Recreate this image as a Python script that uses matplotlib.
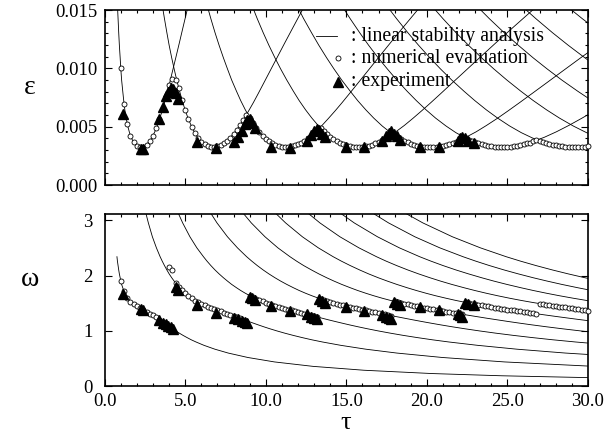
import numpy as np
import matplotlib
matplotlib.use('Agg')
import matplotlib.pyplot as plt
from matplotlib.ticker import MultipleLocator, FormatStrFormatter

# ---------------- data ----------------
# frequency grid shared by the linear-stability curves (descending)
OMEGA = [3.20, 2.95, 2.70, 2.50, 2.34, 2.26, 2.18, 2.10, 2.03, 1.96, 1.90, 1.84, 1.78, 1.73, 1.68, 1.635,
         1.59, 1.55, 1.515, 1.48, 1.45, 1.425, 1.40, 1.375, 1.35, 1.32, 1.29, 1.26, 1.23, 1.20, 1.17, 1.14,
         1.11, 1.075, 1.04, 1.00, 0.96, 0.92, 0.88, 0.84, 0.80, 0.74, 0.67, 0.60, 0.52, 0.44, 0.36, 0.29,
         0.23, 0.19, 0.155]
# threshold epsilon along that grid (linear stability analysis)
EPS_GRID = [0.028219, 0.024973, 0.021631, 0.018872, 0.016597, 0.015434, 0.014252, 0.013050, 0.011981,
            0.010896, 0.009953, 0.009001, 0.008041, 0.007239, 0.006441, 0.005735, 0.005054, 0.004486,
            0.004038, 0.003662, 0.003420, 0.003294, 0.003250, 0.003296, 0.003432, 0.003708, 0.004091,
            0.004562, 0.005106, 0.005710, 0.006365, 0.007067, 0.007812, 0.008733, 0.009710, 0.010896,
            0.012160, 0.013510, 0.014953, 0.016501, 0.018168, 0.020931, 0.024648, 0.029071, 0.035350,
            0.043612, 0.055177, 0.070152, 0.089886, 0.109744, 0.135349]
# delay time of each mode n along the grid; mode 1 starts at OMEGA[4]
TAU_N1 = [0.76, 0.79, 0.83, 0.87, 0.91, 0.96, 1.00, 1.05, 1.12, 1.18, 1.25, 1.33, 1.43, 1.54, 1.65, 1.80,
          1.95, 2.09, 2.24, 2.41, 2.57, 2.76, 2.94, 3.11, 3.27, 3.42, 3.57, 3.71, 3.86, 4.03, 4.20, 4.41,
          4.63, 4.86, 5.11, 5.37, 5.67, 6.16, 6.84, 7.67, 8.89, 10.54, 12.93, 16.09, 20.33, 24.65, 30.25]
TAU_N2 = [2.49, 2.71, 2.96, 3.21, 3.44, 3.57, 3.71, 3.86, 4.00, 4.16, 4.31, 4.47, 4.65, 4.81, 4.99, 5.17,
          5.38, 5.59, 5.80, 6.04, 6.28, 6.50, 6.73, 6.98, 7.22, 7.52, 7.81, 8.10, 8.38, 8.66, 8.94, 9.23,
          9.52, 9.87, 10.24, 10.69, 11.17, 11.69, 12.25, 12.85, 13.52, 14.65, 16.21, 18.14, 20.97, 24.82,
          30.38]
TAU_N3 = [4.45, 4.84, 5.29, 5.72, 6.13, 6.35, 6.59, 6.85, 7.10, 7.37, 7.62, 7.88, 8.18, 8.44, 8.73, 9.02,
          9.33, 9.64, 9.95, 10.29, 10.61, 10.91, 11.22, 11.55, 11.88, 12.28, 12.68, 13.08, 13.49, 13.89,
          14.31, 14.74, 15.18, 15.72, 16.29, 16.98, 17.72, 18.52, 19.39, 20.33, 21.37, 23.14, 25.59, 28.61,
          33.00]
TAU_N4 = [6.42, 6.97, 7.62, 8.24, 8.81, 9.13, 9.47, 9.84, 10.19, 10.57, 10.92, 11.30, 11.71, 12.07, 12.47,
          12.86, 13.28, 13.70, 14.10, 14.54, 14.95, 15.32, 15.71, 16.11, 16.53, 17.04, 17.55, 18.07, 18.60,
          19.13, 19.68, 20.25, 20.84, 21.56, 22.33, 23.26, 24.26, 25.35, 26.53, 27.81, 29.23, 31.63]
TAU_N5 = [8.38, 9.10, 9.95, 10.75, 11.50, 11.91, 12.35, 12.84, 13.29, 13.78, 14.23, 14.71, 15.24, 15.70,
          16.21, 16.70, 17.23, 17.75, 18.24, 18.78, 19.28, 19.73, 20.20, 20.68, 21.19, 21.80, 22.42, 23.06,
          23.70, 24.37, 25.05, 25.76, 26.50, 27.41, 28.37, 29.54, 30.81]
TAU_N6 = [10.34, 11.23, 12.27, 13.26, 14.18, 14.69, 15.24, 15.83, 16.38, 16.98, 17.54, 18.13, 18.77, 19.34,
          19.95, 20.54, 21.19, 21.80, 22.39, 23.03, 23.61, 24.14, 24.68, 25.25, 25.84, 26.56, 27.29, 28.04,
          28.81, 29.60, 30.42]
TAU_N7 = [12.31, 13.36, 14.60, 15.78, 16.87, 17.47, 18.12, 18.82, 19.48, 20.19, 20.84, 21.54, 22.30, 22.97,
          23.69, 24.39, 25.14, 25.86, 26.54, 27.27, 27.95, 28.55, 29.17, 29.82, 30.49]
TAU_N8 = [14.27, 15.49, 16.93, 18.29, 19.55, 20.25, 21.00, 21.81, 22.58, 23.40, 24.15, 24.96, 25.83, 26.60,
          27.43, 28.23, 29.09, 29.91, 30.69]
TAU_N9 = [16.23, 17.62, 19.25, 20.80, 22.24, 23.03, 23.88, 24.80, 25.67, 26.60, 27.46, 28.37, 29.36, 30.23]
TAU_N10 = [18.20, 19.75, 21.58, 23.32, 24.92, 25.81, 26.77, 27.80, 28.77, 29.81, 30.76]
TAU_N11 = [20.16, 21.88, 23.91, 25.83, 27.61, 28.59, 29.65, 30.79]

# numerical evaluation (open circles)
NUM_TAU = [1.0, 1.2, 1.4, 1.6, 1.8, 2.0, 2.2, 2.4, 2.6, 2.8, 3.0, 3.2, 3.4, 3.6, 3.8, 4.0, 4.2, 4.4, 4.6,
           4.8, 5.0, 5.2, 5.4, 5.6, 5.8, 6.0, 6.2, 6.4, 6.6, 6.8, 7.0, 7.2, 7.4, 7.6, 7.8, 8.0, 8.2, 8.4,
           8.6, 8.8, 9.0, 9.2, 9.4, 9.6, 9.8, 10.0, 10.2, 10.4, 10.6, 10.8, 11.0, 11.2, 11.4, 11.6, 11.8,
           12.0, 12.2, 12.4, 12.6, 12.8, 13.0, 13.2, 13.4, 13.6, 13.8, 14.0, 14.2, 14.4, 14.6, 14.8, 15.0,
           15.2, 15.4, 15.6, 15.8, 16.0, 16.2, 16.4, 16.6, 16.8, 17.0, 17.2, 17.4, 17.6, 17.8, 18.0, 18.2,
           18.4, 18.6, 18.8, 19.0, 19.2, 19.4, 19.6, 19.8, 20.0, 20.2, 20.4, 20.6, 20.8, 21.0, 21.2, 21.4,
           21.6, 21.8, 22.0, 22.2, 22.4, 22.6, 22.8, 23.0, 23.2, 23.4, 23.6, 23.8, 24.0, 24.2, 24.4, 24.6,
           24.8, 25.0, 25.2, 25.4, 25.6, 25.8, 26.0, 26.2, 26.4, 26.6, 26.8, 27.0, 27.2, 27.4, 27.6, 27.8,
           28.0, 28.2, 28.4, 28.6, 28.8, 29.0, 29.2, 29.4, 29.6, 29.8, 30.0]
NUM_EPS = [0.00999, 0.00697, 0.00523, 0.00423, 0.00366, 0.00336, 0.00325, 0.00329, 0.00347, 0.00378,
           0.00424, 0.00486, 0.00562, 0.00651, 0.00750, 0.00857, 0.00910, 0.00900, 0.00828, 0.00728,
           0.00640, 0.00564, 0.00499, 0.00446, 0.00404, 0.00372, 0.00349, 0.00334, 0.00326, 0.00325,
           0.00331, 0.00342, 0.00358, 0.00380, 0.00407, 0.00439, 0.00475, 0.00515, 0.00558, 0.00603,
           0.00577, 0.00532, 0.00492, 0.00456, 0.00424, 0.00397, 0.00375, 0.00357, 0.00343, 0.00333,
           0.00327, 0.00325, 0.00326, 0.00331, 0.00339, 0.00350, 0.00364, 0.00381, 0.00400, 0.00422,
           0.00446, 0.00471, 0.00488, 0.00461, 0.00436, 0.00414, 0.00394, 0.00377, 0.00362, 0.00349,
           0.00340, 0.00333, 0.00328, 0.00325, 0.00325, 0.00327, 0.00332, 0.00338, 0.00346, 0.00356,
           0.00368, 0.00382, 0.00397, 0.00413, 0.00431, 0.00425, 0.00407, 0.00392, 0.00378, 0.00365,
           0.00354, 0.00345, 0.00338, 0.00332, 0.00328, 0.00326, 0.00325, 0.00326, 0.00328, 0.00332,
           0.00337, 0.00344, 0.00352, 0.00361, 0.00371, 0.00382, 0.00394, 0.00403, 0.00390, 0.00378,
           0.00368, 0.00358, 0.00350, 0.00343, 0.00337, 0.00332, 0.00328, 0.00326, 0.00325, 0.00325,
           0.00326, 0.00329, 0.00332, 0.00337, 0.00342, 0.00348, 0.00356, 0.00364, 0.00373, 0.00382,
           0.00379, 0.00369, 0.00361, 0.00353, 0.00346, 0.00341, 0.00336, 0.00332, 0.00329, 0.00327,
           0.00325, 0.00325, 0.00326, 0.00327, 0.00329, 0.00332]
NUM_OMEGA = [1.902, 1.713, 1.602, 1.530, 1.480, 1.441, 1.407, 1.376, 1.345, 1.314, 1.280, 1.243, 1.204,
             1.164, 1.122, 2.160, 2.100, 1.865, 1.795, 1.733, 1.677, 1.629, 1.586, 1.548, 1.515, 1.486,
             1.460, 1.436, 1.414, 1.393, 1.373, 1.352, 1.332, 1.312, 1.291, 1.270, 1.249, 1.228, 1.206,
             1.185, 1.637, 1.608, 1.581, 1.555, 1.532, 1.509, 1.489, 1.470, 1.451, 1.434, 1.418, 1.402,
             1.386, 1.371, 1.356, 1.341, 1.326, 1.311, 1.296, 1.281, 1.266, 1.251, 1.578, 1.559, 1.541,
             1.523, 1.506, 1.490, 1.475, 1.460, 1.446, 1.433, 1.420, 1.407, 1.394, 1.382, 1.370, 1.358,
             1.346, 1.334, 1.322, 1.311, 1.299, 1.287, 1.276, 1.532, 1.518, 1.504, 1.491, 1.479, 1.467,
             1.455, 1.443, 1.432, 1.421, 1.410, 1.400, 1.389, 1.379, 1.369, 1.359, 1.349, 1.340, 1.330,
             1.320, 1.310, 1.301, 1.514, 1.503, 1.492, 1.481, 1.471, 1.461, 1.451, 1.441, 1.431, 1.422,
             1.413, 1.404, 1.395, 1.386, 1.377, 1.369, 1.360, 1.352, 1.343, 1.335, 1.327, 1.318, 1.310,
             1.493, 1.483, 1.474, 1.465, 1.456, 1.448, 1.439, 1.431, 1.423, 1.415, 1.407, 1.399, 1.391,
             1.383, 1.376, 1.368]

# experiment (filled triangles)
EXP_TAU = [1.12, 2.25, 2.40, 3.40, 3.60, 3.78, 3.95, 4.10, 4.25, 4.42, 4.55, 5.75, 6.90, 8.00, 8.25, 8.50,
           8.70, 8.85, 9.00, 9.15, 9.30, 10.35, 11.50, 12.55, 12.80, 13.00, 13.15, 13.30, 13.50, 13.70,
           14.95, 16.10, 17.20, 17.45, 17.65, 17.80, 17.95, 18.15, 18.35, 19.60, 20.75, 21.90, 22.05,
           22.20, 22.35, 22.55, 22.90]
EXP_EPS = [0.0061, 0.0031, 0.0031, 0.0057, 0.0067, 0.0076, 0.0080, 0.0083, 0.0082, 0.0079, 0.0074, 0.0037,
           0.0032, 0.0037, 0.0041, 0.0046, 0.0052, 0.0056, 0.0057, 0.0053, 0.0049, 0.0033, 0.0032, 0.0038,
           0.0043, 0.0046, 0.0048, 0.0047, 0.0044, 0.0041, 0.0033, 0.0033, 0.0038, 0.0042, 0.0045, 0.0046,
           0.0044, 0.0042, 0.0039, 0.0033, 0.0033, 0.0038, 0.0040, 0.0041, 0.0040, 0.0038, 0.0036]
EXP_OMEGA = [1.66, 1.39, 1.37, 1.20, 1.15, 1.12, 1.09, 1.07, 1.04, 1.80, 1.74, 1.47, 1.33, 1.24, 1.21, 1.18,
             1.16, 1.15, 1.62, 1.59, 1.56, 1.45, 1.36, 1.30, 1.26, 1.24, 1.22, 1.58, 1.54, 1.51, 1.43, 1.36,
             1.29, 1.26, 1.23, 1.21, 1.52, 1.49, 1.47, 1.43, 1.37, 1.31, 1.28, 1.26, 1.50, 1.48, 1.46]

X_TICKS = [0, 5, 10, 15, 20, 25, 30]
EPS_TICKS = [0.000, 0.005, 0.010, 0.015]
OMEGA_TICKS = [0, 1, 2, 3]
LEGEND_LABELS = [": linear stability analysis", ": numerical evaluation", ": experiment"]

# ---------------- drawing ----------------
plt.rcParams['font.family'] = ['Liberation Serif', 'DejaVu Serif']

W, H = 616, 437
fig = plt.figure(figsize=(W / 100, H / 100), dpi=100)


def rect(l, r, t, b):
    return [l / W, 1 - b / H, (r - l) / W, (b - t) / H]


ax1 = fig.add_axes(rect(104.7, 588, 10, 185))
ax2 = fig.add_axes(rect(104.7, 588, 213.5, 386.3))

curves = [(TAU_N1, 4), (TAU_N2, 0), (TAU_N3, 0), (TAU_N4, 0), (TAU_N5, 0), (TAU_N6, 0),
          (TAU_N7, 0), (TAU_N8, 0), (TAU_N9, 0), (TAU_N10, 0), (TAU_N11, 0)]
for k, (tau_n, start) in enumerate(curves, start=1):
    om = OMEGA[start:start + len(tau_n)]
    ep = EPS_GRID[start:start + len(tau_n)]
    ax1.plot(tau_n, ep, color='black', lw=0.6, zorder=2)
    if k <= 10:
        ax2.plot(tau_n, om, color='black', lw=0.6, zorder=2)

circ = dict(ls='none', marker='o', ms=3.6, mfc='white', mec='black', mew=0.6, zorder=3, clip_on=False)
tri = dict(ls='none', marker='^', ms=6.8, color='black', zorder=4)
ax1.plot(NUM_TAU, NUM_EPS, **circ)
ax2.plot(NUM_TAU, NUM_OMEGA, **circ)
ax1.plot(EXP_TAU, EXP_EPS, **tri)
ax2.plot(EXP_TAU, EXP_OMEGA, **tri)

for ax in (ax1, ax2):
    ax.set_xlim(0, 30)
    ax.set_xticks(X_TICKS)
    ax.xaxis.set_minor_locator(MultipleLocator(1))
    ax.tick_params(which='both', direction='in', top=True, right=True, width=0.8, labelsize=13.5)
    ax.tick_params(which='major', length=5)
    ax.tick_params(which='minor', length=2.5)
    ax.tick_params(axis='x', pad=5)
    for sp in ax.spines.values():
        sp.set_linewidth(1.2)

ax1.tick_params(axis='y', pad=5)
ax2.tick_params(axis='y', pad=8.5)

ax1.set_ylim(0, 0.015)
ax1.set_yticks(EPS_TICKS)
ax1.yaxis.set_minor_locator(MultipleLocator(0.001))
ax1.yaxis.set_major_formatter(FormatStrFormatter('%.3f'))
ax1.tick_params(labelbottom=False)

ax2.set_ylim(0, 3.12)
ax2.set_yticks(OMEGA_TICKS)
ax2.yaxis.set_major_formatter(FormatStrFormatter('%d'))
ax2.xaxis.set_major_formatter(FormatStrFormatter('%.1f'))

# legend
tr = ax1.transAxes
ax1.plot([0.437, 0.480], [0.851, 0.851], color='black', lw=0.6, transform=tr, clip_on=False)
ax1.plot([0.4827], [0.723], transform=tr, ls='none', marker='o', ms=3.6, mfc='white', mec='black', mew=0.6)
ax1.plot([0.4827], [0.589], transform=tr, ls='none', marker='^', ms=6.8, color='black')
for y, lab in zip([0.851, 0.723, 0.589], LEGEND_LABELS):
    ax1.text(0.510, y, lab, transform=tr, fontsize=14.2, va='center', ha='left')

fig.text(30 / W, 1 - 88 / H, 'ε', fontsize=20, ha='center', va='center')
fig.text(30 / W, 1 - 279 / H, 'ω', fontsize=20, ha='center', va='center')
fig.text(346 / W, 1 - 423 / H, 'τ', fontsize=19, ha='center', va='center')

fig.savefig('out.png', dpi=100)
